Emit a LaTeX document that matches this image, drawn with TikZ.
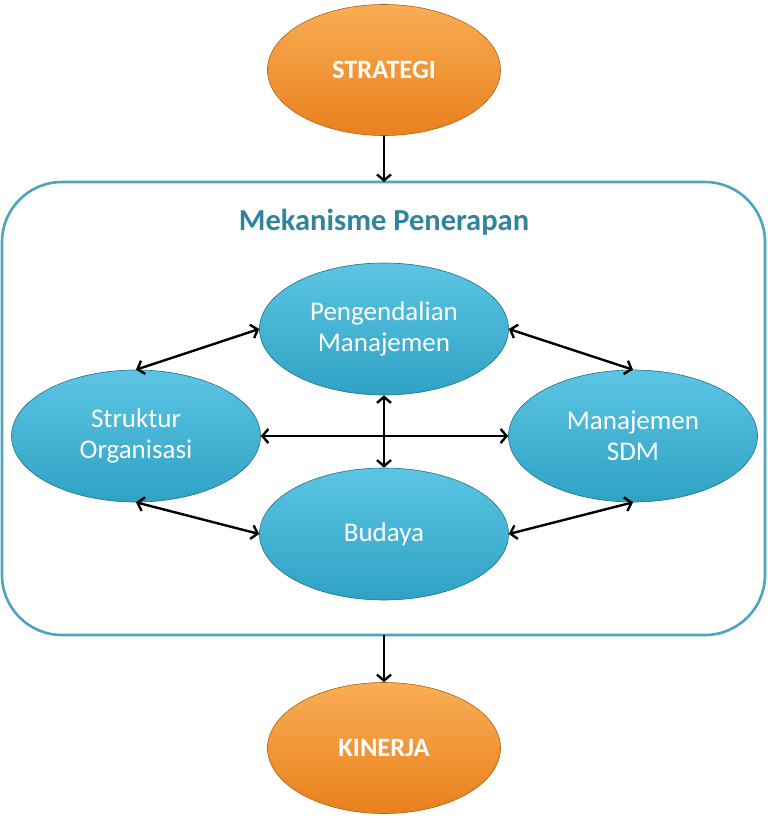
\documentclass[tikz,border=0pt]{standalone}
\usepackage{fontspec}
\setmainfont{Carlito}
\usetikzlibrary{arrows.meta,shapes.geometric}
\definecolor{orangetop}{HTML}{F9AD55}
\definecolor{orangebot}{HTML}{E9801C}
\definecolor{bluetop}{HTML}{5CC5E4}
\definecolor{bluebot}{HTML}{2FA2C4}
\definecolor{frameline}{HTML}{4AA6BA}
\definecolor{titleblue}{HTML}{31849B}
\tikzset{
  orangeoval/.style={ellipse, draw=orangebot!75!black, line width=0.6pt,
    top color=orangetop, bottom color=orangebot, text=white,
    minimum width=233pt, minimum height=131pt, inner sep=0pt,
    font=\fontsize{26.5}{30}\selectfont\bfseries},
  blueoval/.style={ellipse, draw=bluebot!70!black, line width=0.6pt,
    top color=bluetop, bottom color=bluebot, text=white,
    minimum width=249pt, minimum height=132pt, inner sep=0pt, align=center,
    font=\fontsize{27}{31}\selectfont},
  link/.style={line width=2.4pt, {Straight Barb[length=6pt,width=14pt]}-{Straight Barb[length=6pt,width=14pt]}},
  flow/.style={line width=2.4pt, -{Straight Barb[length=6pt,width=14pt]}}
}
\begin{document}
\begin{tikzpicture}[x=1pt,y=-1pt]
\useasboundingbox (0,0) rectangle (768,823);

\node[orangeoval] (strategi) at (384,70) {STRATEGI};
\node[orangeoval] (kinerja) at (384,748) {KINERJA};

% kotak mekanisme
\draw[frameline, line width=2.6pt, rounded corners=60pt] (2,182) rectangle (765,635);
\node[text=titleblue, font=\fontsize{30.5}{34}\selectfont\bfseries] (judul) at (384,222) {Mekanisme Penerapan};
\coordinate (atas) at (384,182);
\coordinate (bawah) at (384,635);

\node[blueoval] (pengendalian) at (384,329) {Pengendalian\\Manajemen};
\node[blueoval] (struktur) at (136,436) {Struktur\\Organisasi};
\node[blueoval] (sdm) at (633,436) {Manajemen\\SDM};
\node[blueoval] (budaya) at (384,534) {Budaya};

\draw[flow] (strategi) -- (atas);
\draw[flow] (bawah) -- (kinerja);

\foreach \a/\b in {pengendalian.west/struktur.north, pengendalian.east/sdm.north,
  struktur.south/budaya.west, sdm.south/budaya.east,
  struktur.east/sdm.west, pengendalian.south/budaya.north}{
\draw[link] (\a) -- (\b);}
\end{tikzpicture}
\end{document}
